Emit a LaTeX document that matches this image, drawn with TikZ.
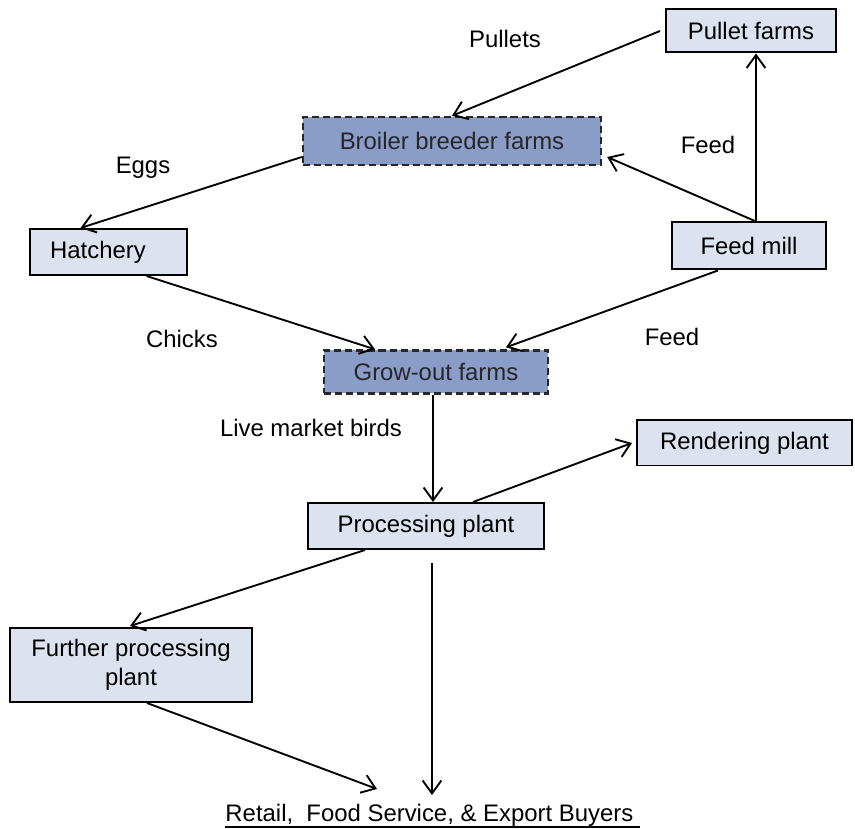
\documentclass[tikz,border=0pt]{standalone}
\usepackage{fontspec}
\setmainfont{Liberation Sans}
\usetikzlibrary{calc,arrows.meta}

\definecolor{boxlight}{RGB}{221,226,239}
\definecolor{boxdark}{RGB}{137,157,200}
\definecolor{dashgray}{RGB}{40,40,40}

\begin{document}
\begin{tikzpicture}[x=0.015cm, y=-0.015cm,
        font=\fontsize{10.2}{12.5}\selectfont,
        stage/.style={draw=black, line width=0.85pt, fill=boxlight, inner sep=0pt, align=center},
        farm/.style={draw=dashgray, line width=1pt, dash pattern=on 3pt off 1.7pt, fill=boxdark, text=black!85, inner sep=0pt},
        flow/.style={-{Straight Barb[length=5.5pt, width=8pt]}, line width=0.8pt},
        lbl/.style={inner sep=0pt}]
        % Fix the page size
        \useasboundingbox (0,0) rectangle (855,829);

        % Define nodes
        \node[stage, minimum width=2.55cm, minimum height=0.645cm] (pullet) at (751,31) {Pullet farms};
        \node[farm, minimum width=4.47cm, minimum height=0.72cm] (broiler) at (452,141) {Broiler breeder farms};
        \node[stage, minimum width=2.355cm, minimum height=0.69cm] (hatchery) at (108.5,252) {Hatchery\hspace{9pt}};
        \node[stage, minimum width=2.31cm, minimum height=0.705cm] (feedmill) at (749,246) {Feed mill};
        \node[farm, minimum width=3.36cm, minimum height=0.645cm] (growout) at (436,372) {Grow-out farms};
        \node[stage, minimum width=3.225cm, minimum height=0.675cm] (rendering) at (744.5,443) {Rendering plant};
        \node[stage, minimum width=3.54cm, minimum height=0.69cm] (processing) at (426,526) {Processing plant};
        \node[stage, minimum width=3.63cm, minimum height=1.11cm] (further) at (131,665) {Further processing\hspace{5pt}\\plant\hspace{5pt}};
        \node[lbl, anchor=base west] (retail) at (225,822) {Retail,\ \ Food Service, \& Export Buyers\ \ };
        % Underline the buyers text
        \draw[line width=0.8pt] ($(retail.base west)+(0,5)$) -- ($(retail.base east)+(0,5)$);

        % Edge labels
        \node[lbl] (pullets) at (505,39) {Pullets};
        \node[lbl] (eggs) at (143,168) {Eggs};
        \node[lbl] (feedup) at (708,145) {Feed};
        \node[lbl] (chicks) at (182,339) {Chicks};
        \node[lbl] (feeddown) at (672,337) {Feed};
        \node[lbl] (live) at (311,428) {Live market birds};

        % Helper coordinates
        \coordinate (fmtop) at ($(feedmill.north)+(7,0)$);
        \coordinate (gobot) at ($(growout.south)+(-3,0)$);
        \coordinate (ppbot) at ($(processing.south)+(6,13)$);
        \coordinate (sinkleft) at (377,789);
        \coordinate (sinkmid) at (ppbot |- 0,795);

        % Draw directed edges
        \draw[flow] ($(pullet.west)+(-5,0)$) -- (broiler.north);
        \draw[flow] ($(broiler.west)+(0,16)$) -- ($(hatchery.north)+(-28,0)$);
        \draw[flow] (fmtop) -- ($(broiler.east)+(5,16)$);
        \draw[flow] (fmtop) -- (fmtop |- pullet.south);
        \draw[flow] ($(hatchery.south)+(38,0)$) -- ($(growout.north)+(-61,0)$);
        \draw[flow] ($(feedmill.south)+(-31,0)$) -- ($(growout.north)+(70,-2)$);
        \draw[flow] (gobot) -- (gobot |- processing.north);
        \draw[flow] ($(processing.north)+(47,0)$) -- ($(rendering.west)+(-4,0)$);
        \draw[flow] ($(processing.south)+(-61,0)$) -- ($(further.north)+(-1,-1)$);
        \draw[flow] ($(further.south)+(16,0)$) -- (sinkleft);
        \draw[flow] (ppbot) -- (sinkmid);
    \end{tikzpicture}
\end{document}
